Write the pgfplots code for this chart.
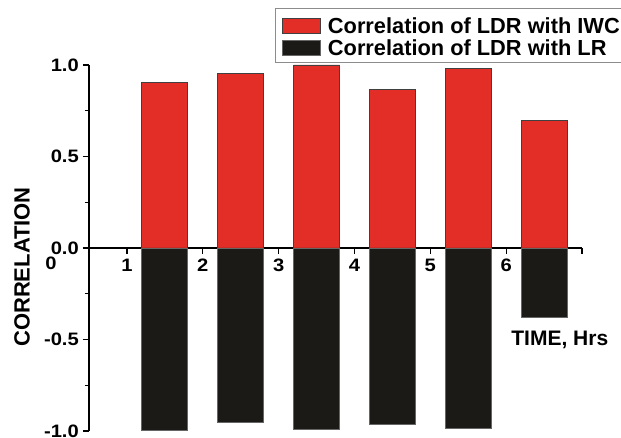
\documentclass[border=0pt]{standalone}
\usepackage{pgfplots}
\pgfplotsset{compat=1.18}
\usepackage{fontspec}
\setmainfont{Liberation Sans}
\newfontfamily\widefont{Liberation Sans}[FakeStretch=1.12]
\definecolor{barred}{RGB}{227,46,40}
\definecolor{barblack}{RGB}{28,26,23}
\newcommand\tickfont{\fontsize{18bp}{20bp}\selectfont\widefont\bfseries}
\begin{document}
\begin{tikzpicture}
\useasboundingbox (0,0) rectangle (621bp,438bp);
\begin{axis}[
  at={(89bp,7bp)}, anchor=south west,
  scale only axis, width=493bp, height=366bp,
  xmin=0.5, xmax=7, ymin=-1, ymax=1,
  axis x line=middle, axis y line=left,
  axis line style={-, line width=1.6bp, black},
  xtick={1,...,6}, extra x ticks={7}, extra x tick labels={},
  ytick={-1,-0.5,0,0.5,1}, minor y tick num=1,
  xtick align=outside, ytick align=outside,
  major tick length=6bp, minor tick length=4bp,
  tick style={line width=1.3bp, black},
  /pgf/number format/assume math mode=true,
  xticklabel style={font=\tickfont, inner sep=2bp, yshift=-3bp},
  yticklabel style={font=\tickfont, inner sep=4bp,
    /pgf/number format/.cd, fixed, fixed zerofill, precision=1},
  xlabel={TIME, Hrs}, ylabel={CORRELATION},
  xlabel style={font=\fontsize{21bp}{24bp}\selectfont\bfseries,
    at={(axis description cs:0.955,0.249)}, anchor=center},
  ylabel style={font=\fontsize{22bp}{25bp}\selectfont\bfseries,
    at={(axis description cs:-0.136,0.448)}, anchor=center},
  clip=false,
  legend style={at={(axis description cs:0.377,1.156)}, anchor=north west,
    draw=black!45, line width=0.6bp, inner xsep=7bp, inner ysep=6bp,
    font=\fontsize{21.8bp}{25bp}\selectfont\bfseries,
    nodes={inner sep=0pt, text height=19bp, text depth=0bp},
    row sep=3bp, cells={anchor=base west},
    /tikz/every odd column/.append style={column sep=7bp}},
  legend image code/.code={\draw[#1, line width=0.8bp] (0bp,0bp) rectangle (38bp,15bp);},
]
\addplot[ybar, bar width=46bp, bar shift=0pt, fill=barred, draw=black!75, line width=0.8bp]
  coordinates {(1.5,0.905) (2.5,0.956) (3.5,1.00) (4.5,0.868) (5.5,0.982) (6.5,0.695)};
\addplot[ybar, bar width=46bp, bar shift=0pt, fill=barblack, draw=black!60, line width=0.8bp]
  coordinates {(1.5,-0.998) (2.5,-0.952) (3.5,-0.989) (4.5,-0.965) (5.5,-0.984) (6.5,-0.377)};
\legend{Correlation of LDR with IWC, Correlation of LDR with LR}
\node[font=\tickfont, anchor=north, inner sep=2bp] at (axis cs:0,0) [yshift=-7bp] {0};
\end{axis}
\end{tikzpicture}
\end{document}
